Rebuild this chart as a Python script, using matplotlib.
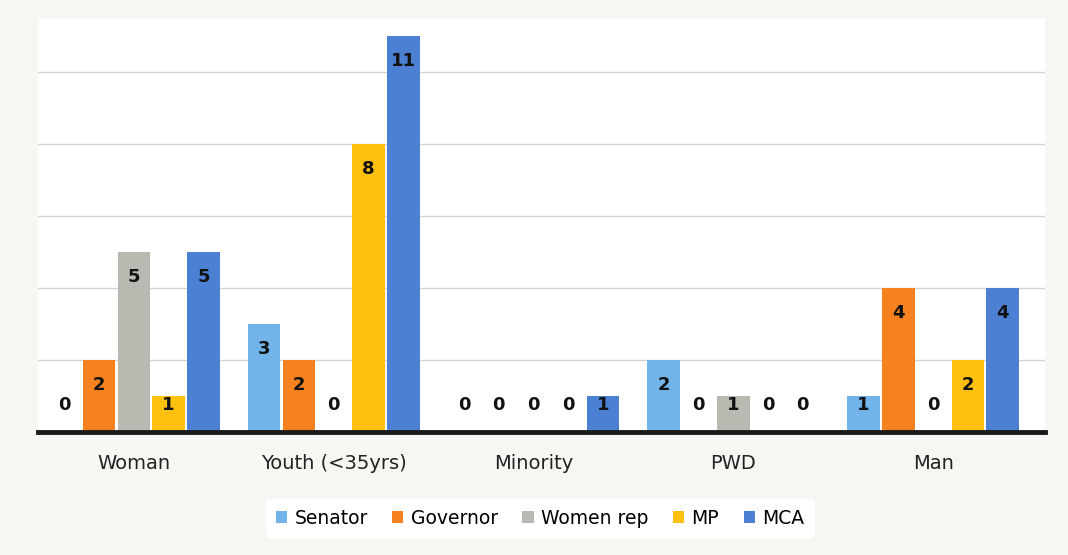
import numpy as np
import matplotlib
matplotlib.use('Agg')
import matplotlib.pyplot as plt

# Datos del grafico
categorias = ['Woman', 'Youth (<35yrs)', 'Minority', 'PWD', 'Man']
series = ['Senator', 'Governor', 'Women rep', 'MP', 'MCA']
senator = [0, 3, 0, 2, 1]
governor = [2, 2, 0, 0, 4]
women_rep = [5, 0, 0, 1, 0]
mp = [1, 8, 0, 0, 2]
mca = [5, 11, 1, 0, 4]

valores = [senator, governor, women_rep, mp, mca]
colores = ['#72B4EA', '#F5821F', '#B9B9B2', '#FFC010', '#4B80D2']

fig = plt.figure(figsize=(10.68, 5.55), dpi=100)
fig.patch.set_facecolor('#F6F6F3')
ax = fig.add_axes([38/1068, 1 - 432/555, (1045-38)/1068, 414/555])
ax.set_facecolor('white')

x = np.arange(len(categorias))
ancho = 0.174
for i, (nombre, vals, col) in enumerate(zip(series, valores, colores)):
    pos = x + (i - 2) * ancho
    ax.bar(pos, vals, width=0.163, color=col, label=nombre, zorder=2)
    for p, v in zip(pos, vals):
        y_txt = max(v - 0.7, 0.75)
        ax.text(p, y_txt, str(v), ha='center', va='center',
                fontsize=13, fontweight='bold', color='#111111', zorder=3)

ax.set_xlim(-0.48, 4.56)
ax.set_ylim(0, 11.5)
ax.set_yticks([2, 4, 6, 8, 10])
ax.yaxis.grid(True, color='#D4D4D0', linewidth=1)
ax.set_axisbelow(True)
ax.tick_params(axis='y', left=False, labelleft=False)
ax.tick_params(axis='x', bottom=False, pad=12)
ax.set_xticks(x)
ax.set_xticklabels(categorias, fontsize=14, color='#222222')
for s in ['top', 'right', 'left']:
    ax.spines[s].set_visible(False)
ax.spines['bottom'].set_linewidth(3.5)
ax.spines['bottom'].set_color('#1A1A1A')

ax.legend(loc='center', bbox_to_anchor=(540/1068, 1 - 518/555),
          bbox_transform=fig.transFigure, ncol=5, frameon=True,
          facecolor='white', edgecolor='white', framealpha=1,
          fontsize=13.5, handlelength=0.6, handleheight=0.6,
          handletextpad=0.4, columnspacing=1.3, borderpad=0.5)

plt.savefig('out.png', dpi=100, facecolor=fig.get_facecolor())
